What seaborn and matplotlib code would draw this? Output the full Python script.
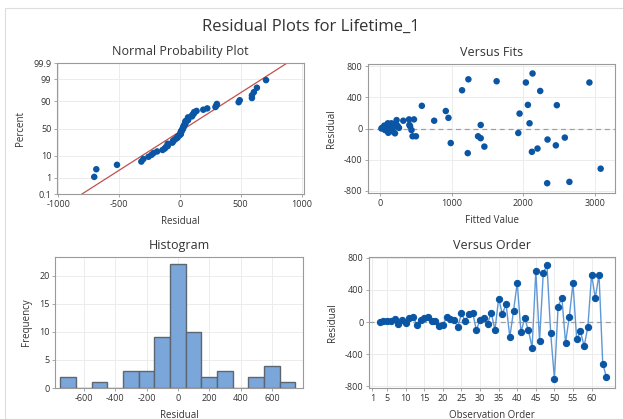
import numpy as np
import pandas as pd
import matplotlib
matplotlib.use("Agg")
import matplotlib.pyplot as plt
from matplotlib.patches import Rectangle
import seaborn as sns
from statistics import NormalDist

# ── data ──────────────────────────────────────────────────────────────────────
obs_order = list(range(3, 65))
residuals = [0, 8, 8, 8, 37, -20, 25, -12, 45, 67,
             -33, 29, 46, 67, 17, 17, -55, -42, 67, 37,
             25, -62, 108, 8, 100, 117, -100, 29, 46, -20,
             117, -100, 292, 100, 225, -187, 137, 492, -125, 45,
             -100, -317, 633, -233, 608, 708, -142, -704, 192, 304,
             -258, 67, 483, -217, -117, -300, -58, 592, 300, 592,
             -517, -687]
fitted = [20, 30, 40, 50, 60, 70, 80, 90, 100, 110,
          120, 130, 150, 160, 170, 180, 116, 186, 220, 240,
          250, 209, 232, 265, 325, 405, 455, 420, 410, 440,
          474, 502, 584, 756, 918, 987, 955, 1145, 1405, 1405,
          1368, 1224, 1233, 1456, 1627, 2128, 2337, 2332, 1947, 2063,
          2197, 2086, 2235, 2453, 2578, 2119, 1929, 2035, 2467, 2921,
          3078, 2642]

pct_ticks = [0.1, 1, 10, 50, 90, 99, 99.9]
hist_edges = [-750, -650, -550, -450, -350, -250, -150, -50,
              50, 150, 250, 350, 450, 550, 650, 750]

POINT = "#0a56a5"
LINE = "#5f98d6"
BAR = "#7aa6da"
EDGE = "#5c6670"
FITLINE = "#c0504d"
TXT = "#333333"
GRID = "#ececec"
SPINE = "#9a9a9a"

sns.set_theme(style="white")
plt.rcParams["font.family"] = ["Open Sans", "DejaVu Sans"]
plt.rcParams["axes.unicode_minus"] = False

df = pd.DataFrame({"order": obs_order, "resid": residuals, "fit": fitted})

W, H = 623, 419
fig = plt.figure(figsize=(W / 100, H / 100), dpi=100)


def make_ax(l, t, r, b):
    return fig.add_axes([l / W, 1 - b / H, (r - l) / W, (b - t) / H])


def style(ax, title, xlabel, ylabel):
    ax.set_title(title, fontsize=9, color=TXT, pad=6)
    ax.set_xlabel(xlabel, fontsize=7, color=TXT, labelpad=5)
    ax.set_ylabel(ylabel, fontsize=7, color=TXT, labelpad=5)
    ax.tick_params(labelsize=6.5, colors=TXT, length=2.5, width=0.6,
                   color=SPINE, pad=1.5, left=True, bottom=True)
    for s in ax.spines.values():
        s.set_color(SPINE)
        s.set_linewidth(0.8)
    ax.grid(True, color=GRID, linewidth=0.7)
    ax.set_axisbelow(True)


fig.text(311 / W, 1 - 27 / H, "Residual Plots for Lifetime_1", ha="center",
         va="center", fontsize=12, color=TXT)
fig.patches.append(Rectangle((5 / W, 0), 2, 1 - 8 / H, transform=fig.transFigure,
                             fill=False, edgecolor="#dddddd", linewidth=0.8))

# ── Normal probability plot ───────────────────────────────────────────────────
ax1 = make_ax(57, 63, 304, 194)
nd = NormalDist()
n = len(residuals)
srt = np.sort(residuals)
z = [nd.inv_cdf((i + 1 - 0.3) / (n + 0.4)) for i in range(n)]
mu, sd = np.mean(residuals), np.std(residuals, ddof=1)
z_lo, z_hi = nd.inv_cdf(0.001), nd.inv_cdf(0.999)
ax1.plot([mu + sd * z_lo, mu + sd * z_hi], [z_lo, z_hi], color=FITLINE, lw=0.9)
sns.scatterplot(x=srt, y=z, ax=ax1, color=POINT, s=22, edgecolor="none", zorder=3)
ax1.set_ylim(z_lo, z_hi)
ax1.set_yticks([nd.inv_cdf(p / 100) for p in pct_ticks])
ax1.set_yticklabels([f"{p:g}" for p in pct_ticks])
ax1.set_xlim(-1010, 1020)
ax1.set_xticks([-1000, -500, 0, 500, 1000])
style(ax1, "Normal Probability Plot", "Residual", "Percent")

# ── Versus fits ───────────────────────────────────────────────────────────────
ax2 = make_ax(368, 64, 615, 193)
ax2.axhline(0, color="#a0a0a0", lw=0.9, ls=(0, (4, 3)))
sns.scatterplot(data=df, x="fit", y="resid", ax=ax2, color=POINT, s=22,
                edgecolor="none", zorder=3)
ax2.set_xlim(-167, 3278)
ax2.set_ylim(-830, 830)
ax2.set_xticks([0, 1000, 2000, 3000])
ax2.set_yticks([-800, -400, 0, 400, 800])
style(ax2, "Versus Fits", "Fitted Value", "Residual")

# ── Histogram ─────────────────────────────────────────────────────────────────
ax3 = make_ax(55, 257, 303, 388)
sns.histplot(residuals, bins=hist_edges, ax=ax3, color=BAR, alpha=1,
             edgecolor=EDGE, linewidth=1.0, zorder=2)
ax3.set_xlim(-785, 798)
ax3.set_ylim(0, 23.3)
ax3.set_xticks([-600, -400, -200, 0, 200, 400, 600])
ax3.set_yticks([0, 5, 10, 15, 20])
style(ax3, "Histogram", "Residual", "Frequency")

# ── Versus order ──────────────────────────────────────────────────────────────
ax4 = make_ax(369, 257, 615, 388)
ax4.axhline(0, color="#a0a0a0", lw=0.9, ls=(0, (4, 3)))
sns.lineplot(data=df, x="order", y="resid", ax=ax4, color=LINE, lw=1.0,
             marker="o", markersize=4.5, markerfacecolor=POINT,
             markeredgecolor=POINT, zorder=3)
ax4.set_xlim(0.12, 66.3)
ax4.set_ylim(-821, 810)
ax4.set_xticks([1, 5, 10, 15, 20, 25, 30, 35, 40, 45, 50, 55, 60])
ax4.set_yticks([-800, -400, 0, 400, 800])
style(ax4, "Versus Order", "Observation Order", "Residual")

fig.savefig("out.png", dpi=100)
